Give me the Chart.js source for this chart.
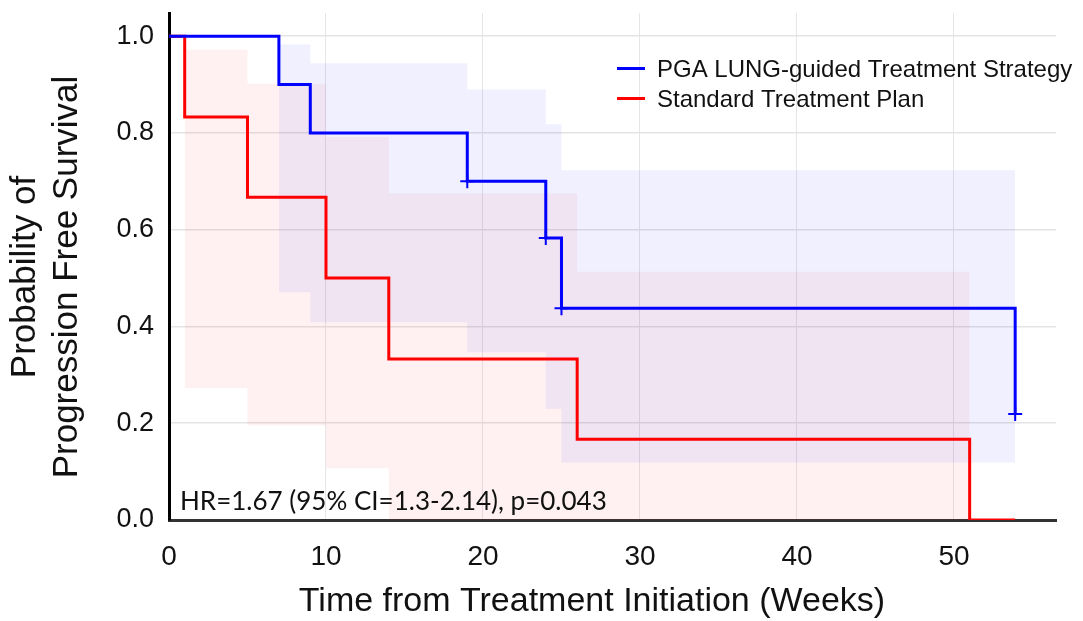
<!DOCTYPE html>
<html>
<head>
<meta charset="utf-8">
<script src="https://cdn.jsdelivr.net/npm/chart.js@4"></script>
<style>
  html, body { margin: 0; padding: 0; background: #fff; }
  #wrap { width: 1083px; height: 621px; }
</style>
</head>
<body>
<div id="wrap"><canvas id="kmChart" width="1083" height="621"></canvas></div>
<script>
// Kaplan-Meier steps (weeks / probability)
const pgaTimes = [0, 7, 9, 19, 24, 25, 53.9];
const pgaSurv = [1.0, 0.9, 0.8, 0.7, 0.583, 0.4375, 0.219];
const pgaCensorTimes = [19, 24, 25, 53.9];
const pgaCensorSurv = [0.7, 0.583, 0.4375, 0.219];
const pgaBandTimes = [7, 9, 19, 24, 25, 53.9];
const pgaBandUpper = [0.983, 0.944, 0.89, 0.818, 0.723, 0.723];
const pgaBandLower = [0.471, 0.409, 0.347, 0.23, 0.119, 0.119];

const stdTimes = [0, 1, 5, 10, 14, 26, 51, 53.9];
const stdSurv = [1.0, 0.833, 0.667, 0.5, 0.333, 0.167, 0.0, 0.0];
const stdBandTimes = [1, 5, 10, 14, 26, 51];
const stdBandUpper = [0.972, 0.902, 0.792, 0.675, 0.513, 0.513];
const stdBandLower = [0.273, 0.196, 0.107, 0, 0, 0];

const xTicks = [0, 10, 20, 30, 40, 50];
const yTicks = [0, 0.2, 0.4, 0.6, 0.8, 1.0];

const seriesNames = ['PGA LUNG-guided Treatment Strategy', 'Standard Treatment Plan'];
const seriesColors = ['#0000ff', '#ff0000'];
const statsText = 'HR=1.67 (95% CI=1.3-2.14), p=0.043';
const xTitle = 'Time from Treatment Initiation (Weeks)';
const yTitle = ['Probability of', 'Progression Free Survival'];

const pts = (xs, ys) => xs.map((x, i) => ({ x: x, y: ys[i] }));
const sans = '"Liberation Sans", Arial, sans-serif';

// axis titles, legend and HR note, drawn on top of the chart
const extrasPlugin = {
    id: 'extras',
    afterDraw(chart) {
        const ctx = chart.ctx;
        ctx.save();
        ctx.fillStyle = '#111';
        ctx.textBaseline = 'middle';

        // axis titles (the reference centres them off the plot area)
        ctx.textAlign = 'center';
        ctx.font = '34px ' + sans;
        ctx.fillText(xTitle, 592, 602);
        ctx.font = '35px ' + sans;
        yTitle.forEach((line, i) => {
            ctx.save();
            ctx.translate(25 + i * 42, 277);
            ctx.rotate(-Math.PI / 2);
            ctx.fillText(line, 0, 0);
            ctx.restore();
        });

        // legend
        const rows = [70, 100];
        ctx.textAlign = 'left';
        ctx.font = '24px ' + sans;
        seriesNames.forEach((name, i) => {
            ctx.strokeStyle = seriesColors[i];
            ctx.lineWidth = 3;
            ctx.beginPath();
            ctx.moveTo(617, rows[i] - 1.5);
            ctx.lineTo(645, rows[i] - 1.5);
            ctx.stroke();
            ctx.fillText(name, 657, rows[i]);
        });

        // HR annotation, sized to the width it takes in the reference
        ctx.font = '26px Lato, "Open Sans", sans-serif';
        const w = ctx.measureText(statsText).width;
        const size = 26 * 427 / w;
        ctx.font = size.toFixed(2) + 'px Lato, "Open Sans", sans-serif';
        ctx.textBaseline = 'alphabetic';
        ctx.fillText(statsText, 180, 510);
        ctx.restore();
    }
};

const bandLine = (xs, ys, color, fill) => ({
    data: pts(xs, ys),
    stepped: 'before',
    borderWidth: 0,
    borderColor: 'rgba(0,0,0,0)',
    pointRadius: 0,
    backgroundColor: color,
    fill: fill
});

const ctx = document.getElementById('kmChart').getContext('2d');
new Chart(ctx, {
    type: 'line',
    data: {
        datasets: [
            {
                label: 'PGA censored',
                data: pts(pgaCensorTimes, pgaCensorSurv),
                showLine: false,
                pointStyle: 'cross',
                pointRadius: 7,
                pointBorderWidth: 2,
                pointBorderColor: seriesColors[0],
                borderColor: seriesColors[0]
            },
            {
                label: seriesNames[0],
                data: pts(pgaTimes, pgaSurv),
                stepped: 'before',
                borderColor: seriesColors[0],
                borderWidth: 3,
                pointRadius: 0,
                fill: false
            },
            {
                label: seriesNames[1],
                data: pts(stdTimes, stdSurv),
                stepped: 'before',
                borderColor: seriesColors[1],
                borderWidth: 3,
                pointRadius: 0,
                fill: false
            },
            bandLine(pgaBandTimes, pgaBandUpper, 'rgba(40, 40, 255, 0.07)', '+1'),
            bandLine(pgaBandTimes, pgaBandLower, 'rgba(0,0,0,0)', false),
            bandLine(stdBandTimes, stdBandUpper, 'rgba(255, 40, 40, 0.065)', '+1'),
            bandLine(stdBandTimes, stdBandLower, 'rgba(0,0,0,0)', false)
        ]
    },
    options: {
        responsive: false,
        animation: false,
        layout: { padding: { top: 13, right: 27, left: 0, bottom: 0 } },
        plugins: {
            legend: { display: false },
            tooltip: { enabled: false }
        },
        scales: {
            x: {
                type: 'linear',
                min: 0,
                max: 56.5,
                afterBuildTicks: (scale) => { scale.ticks = xTicks.map(v => ({ value: v })); },
                afterFit: (scale) => {
                    scale.height = 101;
                    scale.paddingLeft = 0;
                    scale.paddingRight = 0;
                },
                grid: { color: '#e6e6ea', lineWidth: 1, drawTicks: false },
                border: { color: '#333', width: 3 },
                ticks: {
                    padding: 20,
                    color: '#111',
                    font: { family: sans, size: 28 }
                }
            },
            y: {
                min: 0,
                max: 1.048,
                afterBuildTicks: (scale) => { scale.ticks = yTicks.map(v => ({ value: v })); },
                afterFit: (scale) => {
                    scale.width = 169;
                    scale.paddingTop = 0;
                    scale.paddingBottom = 0;
                },
                grid: { color: '#e4e4e4', lineWidth: 1.5, drawTicks: false },
                border: { color: '#000', width: 3 },
                ticks: {
                    padding: 15,
                    color: '#111',
                    font: { family: sans, size: 27 },
                    callback: (v) => Number(v).toFixed(1)
                }
            }
        }
    },
    plugins: [extrasPlugin]
});
</script>
</body>
</html>
